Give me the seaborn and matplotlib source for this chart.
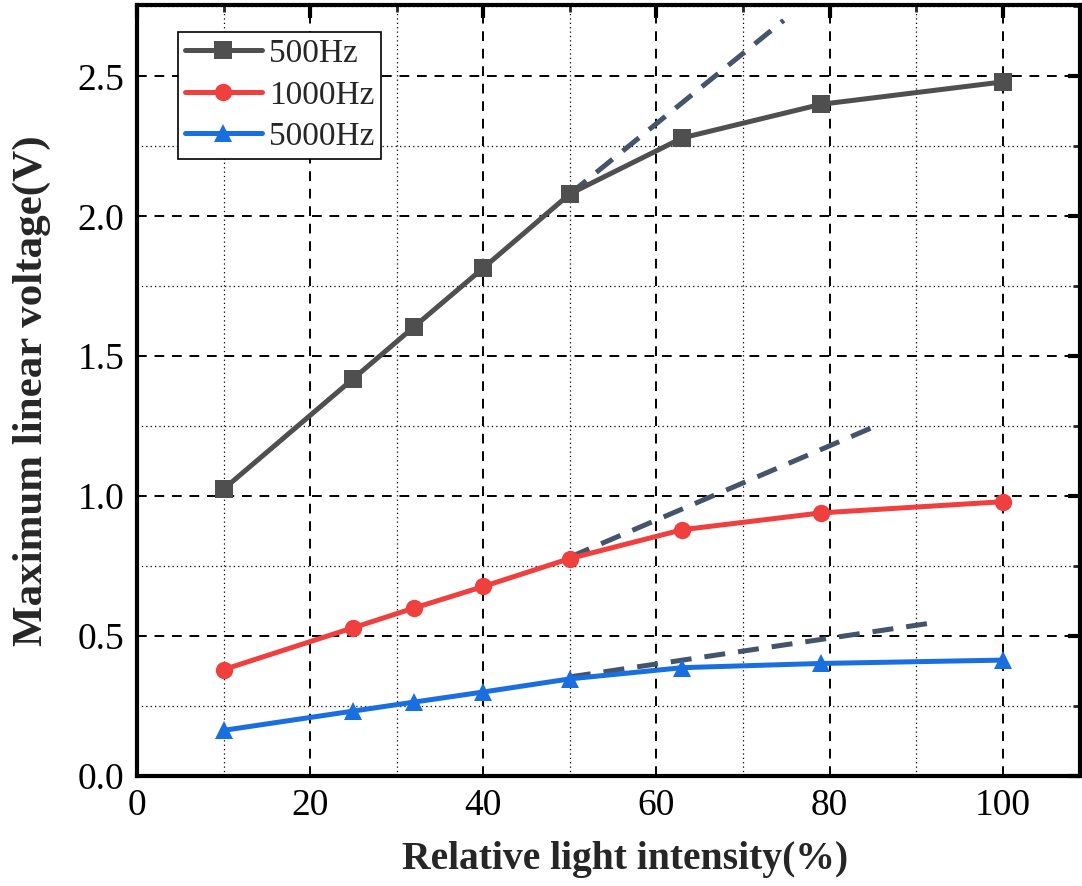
import matplotlib
matplotlib.use("Agg")
import matplotlib.pyplot as plt
import seaborn as sns
import pandas as pd
import numpy as np
from matplotlib.ticker import MultipleLocator

# ---- data ----
intensity = [10, 25, 32, 40, 50, 63, 79, 100]
v_500 = [1.025, 1.42, 1.605, 1.815, 2.08, 2.28, 2.40, 2.48]
v_1000 = [0.38, 0.53, 0.60, 0.677, 0.777, 0.88, 0.94, 0.98]
v_5000 = [0.163, 0.232, 0.264, 0.30, 0.347, 0.387, 0.402, 0.414]
series_names = ["500Hz", "1000Hz", "5000Hz"]

# linear-extrapolation dashed guides (start x, end x, start y, end y)
trend_x0 = [50, 50, 50]
trend_x1 = [74.7, 85.6, 92.5]
trend_y0 = [2.08, 0.782, 0.354]
trend_y1 = [2.70, 1.254, 0.55]

colors = {"500Hz": "#4f4f4f", "1000Hz": "#ef3f3f", "5000Hz": "#1a6fe0"}
markers = {"500Hz": "s", "1000Hz": "o", "5000Hz": "^"}

df = pd.concat([
    pd.DataFrame({"x": intensity, "y": v, "series": name})
    for name, v in zip(series_names, [v_500, v_1000, v_5000])
], ignore_index=True)

sns.set_style("white")
plt.rcParams["font.family"] = ["Liberation Serif", "DejaVu Serif"]

fig = plt.figure(figsize=(10.82, 8.86), dpi=100)
ax = fig.add_axes([0.1266, 0.1242, 0.8714, 0.8702])

# grid
ax.set_axisbelow(True)
ax.xaxis.set_major_locator(MultipleLocator(20))
ax.xaxis.set_minor_locator(MultipleLocator(10))
ax.yaxis.set_major_locator(MultipleLocator(0.5))
ax.yaxis.set_minor_locator(MultipleLocator(0.25))
ax.grid(which="major", color="black", linestyle=(0, (5, 4)), linewidth=1.4)
ax.grid(which="minor", color="black", linestyle=(0, (1, 2.5)), linewidth=0.9)

# trend guides
for xa, xb, ya, yb in zip(trend_x0, trend_x1, trend_y0, trend_y1):
    sns.lineplot(x=[xa, xb], y=[ya, yb], ax=ax, color="#44546a",
                 linewidth=3.6, linestyle=(0, (4.2, 2.6)), zorder=3)

sns.lineplot(data=df, x="x", y="y", hue="series", style="series",
             palette=colors, markers=markers, dashes=False,
             linewidth=3.6, markersize=12.5, markeredgewidth=0,
             ax=ax, zorder=4)

ax.set_xlim(0, 108.9)
ax.set_ylim(0, 2.755)

for sp in ax.spines.values():
    sp.set_visible(True)
    sp.set_linewidth(3.0)
    sp.set_color("black")

ax.tick_params(which="major", direction="in", length=9, width=3,
               top=True, right=True, labelsize=27, pad=9, colors="black")
ax.tick_params(which="minor", direction="in", length=5, width=2,
               top=True, right=True)
ax.set_xticks([0, 20, 40, 60, 80, 100])
ax.set_xticklabels(["0", "20", "40", "60", "80", "100"])
ax.set_yticks([0, 0.5, 1.0, 1.5, 2.0, 2.5])
ax.set_yticklabels(["0.0", "0.5", "1.0", "1.5", "2.0", "2.5"])

ax.set_xlabel("Relative light intensity(%)", fontsize=28.5, fontweight="bold")
ax.set_ylabel("Maximum linear voltage(V)", fontsize=31, fontweight="bold")
ax.xaxis.set_label_coords(0.5175, -0.085)
ax.yaxis.set_label_coords(-0.091, 0.5)

handles, labels = ax.get_legend_handles_labels()
leg = ax.legend(handles, labels, loc="upper left", bbox_to_anchor=(0.044, 0.965),
                fontsize=24, frameon=True, fancybox=False, shadow=False,
                edgecolor="black", framealpha=1, borderpad=0.2,
                labelspacing=0.33, handlelength=2.3, handletextpad=0.22,
                borderaxespad=0)
leg.get_frame().set_linewidth(1.2)
leg.set_zorder(10)

fig.savefig("out.png", dpi=100)
